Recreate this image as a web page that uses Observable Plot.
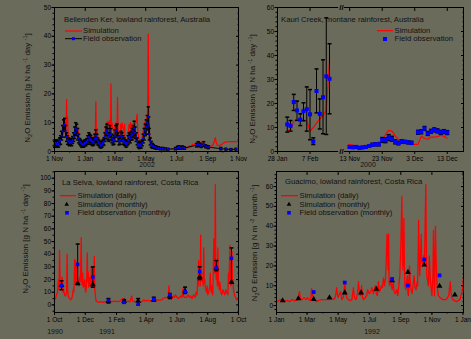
<!DOCTYPE html>
<html><head><meta charset="utf-8">
<script src="https://cdn.jsdelivr.net/npm/d3@7"></script>
<script src="https://cdn.jsdelivr.net/npm/@observablehq/plot@0.6"></script>
<style>
html,body{margin:0;padding:0;background:#6b6b5c;}
#wrap{position:relative;width:471px;height:339px;overflow:hidden;background:#6b6b5c;font-family:"Liberation Sans",Arial,sans-serif;}
</style></head><body><div id="wrap"></div>
<script>
// ---------- Panel 1: Bellenden Ker (day offset from 1 Nov 2001) ----------
const bkStart = "2001-11-01", bkEnd = "2002-11-01";
const bkSim = [[0,2.2],[2,2.8],[4,2.5],[6,3.2],[8,2.6],[10,3.5],[12,4.5],[14,5.5],[16,7],[17,9.5],[18,6],[19,11],[20,8],[21,10],[22,6],[23,8],[24,18],[25,9],[26,12],[27,6],[28,5],[30,4],[32,3.5],[34,5],[36,3.2],[38,4],[40,5.5],[42,7],[44,8.5],[45,6.5],[46,8],[48,5.5],[50,4],[52,3.5],[54,3],[56,2.6],[58,3],[60,2.5],[62,3],[64,3.5],[66,4],[68,5.5],[70,4.5],[72,6],[74,5],[76,4],[78,5.5],[80,4],[81,7],[82,17.3],[83,6],[84,8],[86,5],[88,4],[90,3],[92,2.5],[94,3],[96,3.5],[98,5],[100,6.5],[102,9.5],[103,7],[104,10],[105,8],[106,10.5],[108,9.5],[110,11],[111,7],[112,23.5],[113,9],[114,10],[116,8],[118,6],[120,9],[122,10],[124,7],[125,18.8],[126,8],[128,5],[130,4],[131,9.5],[132,6],[134,10],[136,8],[138,7],[139,9.5],[140,5],[142,3.5],[144,4],[146,6],[148,9.5],[150,8],[151,10],[152,6],[154,9.5],[156,7],[158,5],[160,9],[162,10.5],[164,13],[165,8],[166,6],[168,4],[170,3],[172,3.5],[174,5],[176,7],[178,9],[180,10.5],[182,11],[184,12],[185,16],[186,40.8],[187,14],[188,8],[189,5],[190,4],[192,3],[195,2.5],[198,2.2],[202,2],[206,1.6],[212,1.3],[220,1.0],[230,0.8],[240,0.7],[250,0.8],[258,1.1],[264,1.4],[268,2.0],[270,1.6],[274,2.6],[276,2.0],[279,2.8],[282,2.2],[285,3.2],[287,2.3],[290,3.0],[292,3.4],[294,2.5],[297,2.8],[300,2.2],[303,2.0],[306,1.8],[309,2.0],[312,1.8],[315,2.5],[317,3.5],[319,4.8],[321,3.0],[323,2.2],[326,2.0],[330,2.3],[333,2.6],[336,3.1],[340,3.3],[350,3.4],[364,3.4]];
// [day, observed, error]
const bkObs = [[0,2.5,1],[2,3,1],[4,2.5,1],[6,3,1],[8,2.5,1],[10,3.5,1.2],[12,4,1.5],[14,5.5,1.5],[16,7,2],[18,9,2],[20,9.5,2],[22,7,2],[24,5,1.5],[26,4,1.5],[28,3.5,1.2],[30,3,1],[32,3.5,1],[34,3,1],[36,4,1.2],[38,5,1.5],[40,6.5,2],[42,8,2],[44,7.5,2],[46,6,2],[48,4.5,1.5],[50,3.5,1],[52,3,1],[54,2.5,1],[56,2.5,1],[58,2.5,1],[60,3,1],[62,3,1],[64,3.5,1],[66,4,1.5],[68,5,1.5],[70,4.5,1.5],[72,4,1.5],[74,3.5,1.2],[76,3,1],[78,3.5,1.2],[80,4.5,1.5],[82,5.5,2],[84,4.5,1.5],[86,3.5,1.2],[88,3,1],[90,2.5,1],[92,2,0.8],[94,2.5,1],[96,3,1],[98,3.5,1.2],[100,5,1.5],[102,6.5,2],[104,7.5,2],[106,6,2],[108,5,1.5],[110,7,2],[112,6,2],[114,4.5,1.5],[116,3.5,1.2],[118,4,1.5],[120,5.5,2],[122,7,2],[124,7.5,2],[126,5,1.5],[128,3.5,1.2],[130,4,1.5],[132,5.5,1.5],[134,5,1.5],[136,4,1.5],[138,3.5,1.2],[140,3,1],[142,2.5,1],[144,3,1],[146,4,1.5],[148,5,1.5],[150,4.5,1.5],[152,5.5,1.5],[154,6,2],[156,7,2],[158,8,2.5],[160,6.5,2],[162,5,1.5],[164,3.5,1.2],[166,2.5,1],[168,2,1],[170,2.5,1],[172,2,0.8],[174,3,1],[176,4.5,1.5],[178,6,2],[180,7.5,2],[182,8.5,2.5],[184,10,2.5],[186,12,3.5],[187,9,3],[188,6,2],[190,3.5,1.2],[192,2.5,1],[194,2,0.8],[196,1.8,0.6],[199,1.5,0.5],[202,1.3,0.5],[206,1.2,0.4],[210,1,0.4],[215,1,0.4],[220,0.9,0.3],[225,0.8,0.3],[240,1.0,0.4],[244,1.3,0.5],[247,1.5,0.5],[250,1.2,0.4],[254,1.4,0.5],[258,1.2,0.4],[282,2.2,0.6],[285,2.6,0.8],[288,2.3,0.6],[291,2.0,0.6],[296,2.6,0.8],[300,1.8,0.5],[305,1.5,0.5],[330,1.0,0.4],[340,0.8,0.3],[350,0.7,0.3],[360,0.8,0.3]];
const bkXTicks = ["2001-11-01","2002-01-01","2002-03-01","2002-05-01","2002-07-01","2002-09-01","2002-11-01"];

// ---------- Panel 2: Kauri Creek (broken axis) ----------
const kcRightOffset = 22.2;   // axis position of 13 Nov
const kcBreak = 19.7;
const kcLeftTickDays = [0, 10], kcLeftTickLabels = ["28 Jan", "7 Feb"];
const kcRightTickDays = [0, 10, 20, 30], kcRightTickLabels = ["13 Nov", "23 Nov", "3 Dec", "13 Dec"];
// [day from 28 Jan, obs, low, high]
const kcLeftObs = [[3,11.3,8.1,14.3],[4,10.7,8.5,12.9],[5,20.6,17.1,23.8],[6,17.1,13,21],[7,13.3,10.8,15.7],[8,16.8,12.8,20.3],[9,17.6,8.5,26.9],[10,15.5,4.9,25.8],[11,4.2,2.9,5.7],[12,25.2,16.1,34.4],[13,15.7,9.4,21.9],[14,22.6,7.4,38.2],[15,31.3,7.1,55.7],[16,30.3,15.7,44.9]];
const kcLeftSim = [[3,8.5],[4,9],[5,12.5],[6,13],[7,13],[8,13.2],[9,12.8],[10,8.5],[11,10],[12,11.8],[13,13.5],[14,15],[15,17],[16,38]];
// [day from 13 Nov, obs, error]
const kcRightObs = [[0,1.9,0.5],[1,1.8,0.5],[2,1.9,0.5],[3,1.5,0.4],[4,1.7,0.4],[5,1.9,0.5],[6,2.3,0.5],[7,2.8,0.6],[8,3.0,0.6],[9,3.0,0.6],[10,4.8,1],[11,4.7,1],[12,5.8,1.2],[13,5.3,1],[14,4.0,0.8],[15,3.5,0.7],[16,4.2,0.7],[17,4.0,0.6],[18,3.8,0.6],[19,3.6,0.6],[21,8.0,0.8],[22,8.2,0.8],[23,9.6,0.8],[24,7.5,0.8],[25,8.4,0.8],[26,9.0,0.8],[27,8.6,0.8],[28,8.0,0.8],[29,8.3,0.8],[30,7.9,0.8]];
const kcRightSim = [[-0.3,3.0],[1.8,2.5],[3.9,2.0],[5.9,2.5],[8,3.5],[10,4.5],[11,7],[12,8.8],[13,8.5],[14,6.5],[15,5],[16,4],[17,3.5],[18,3.3],[20,3],[21,3],[22,6.3],[23,5.5],[24,5.0],[25,6],[26,6],[27,6.2],[28,6.8],[29,6.3],[30,5.5]];

// ---------- Panel 3: La Selva (day offset from 1 Oct 1990) ----------
const lsStart = "1990-10-01", lsEnd = "1991-10-01";
const lsSim = [[0,4],[2,5],[4,8],[6,10],[7,16],[8,20],[9,12],[10,43],[11,20],[12,14],[13,18],[14,12],[15,22],[16,18],[17,10],[18,12],[20,8],[22,7],[24,10],[25,40],[26,12],[27,8],[28,6],[30,5],[32,4],[34,5],[36,8],[37,12],[38,10],[39,15],[40,36],[41,18],[42,35],[43,16],[44,18],[45,30],[46,17],[47,18],[48,20],[49,15],[50,22],[51,18],[52,30],[53,53],[54,20],[55,16],[56,25],[57,14],[58,15],[59,18],[60,20],[61,12],[62,10],[63,14],[64,22],[65,41],[66,18],[67,26],[68,14],[69,15],[70,22],[71,16],[72,15],[73,30],[74,18],[75,17],[76,22],[77,20],[78,15],[79,38],[80,12],[81,8],[82,4],[83,3],[85,2.5],[88,2],[92,2.5],[96,2],[100,2.5],[105,2],[110,3],[115,2.5],[120,3],[125,2.5],[130,3],[135,5],[137,3],[140,2.5],[145,3],[150,2.5],[153,7],[155,3],[160,2.5],[165,3],[170,2],[175,3],[178,4],[180,3],[185,3.5],[190,3],[195,4],[200,4.5],[204,4],[208,3.5],[212,4],[216,5],[220,6],[224,5],[226,8],[227,15],[228,9],[230,6],[233,5],[236,7],[238,6],[240,8],[243,6],[246,5],[250,7],[253,6],[255,13],[256,7],[258,6],[262,6],[265,8],[268,6],[270,7],[273,5],[276,8],[279,6],[281,10],[283,8],[284,20],[285,15],[286,35],[287,22],[288,30],[289,15],[290,55],[291,20],[292,25],[293,18],[294,20],[295,15],[296,45],[297,18],[298,20],[299,15],[300,12],[302,10],[303,15],[304,8],[306,10],[308,15],[309,25],[310,12],[311,10],[312,15],[313,10],[314,8],[315,30],[316,52],[317,40],[318,25],[319,95],[320,30],[321,20],[322,25],[323,15],[324,45],[325,20],[326,15],[327,12],[328,18],[329,15],[330,10],[332,8],[334,12],[336,10],[338,8],[340,12],[342,10],[344,8],[345,25],[346,18],[347,30],[348,47],[349,20],[350,15],[351,25],[352,42],[353,18],[354,20],[355,12],[356,10],[358,7],[360,5],[362,4],[364,5]];
const lsMonthDay = [14,46,76,107,138,166,197,229,259,288,321,351];
const lsObs  = [15,32,22,3.5,2,0.5,4.5,8,10.5,26.3,29.2,36.8];
const lsSimM = [15.5,17,16,3,3,3,4,7,11,22,29,18];
const lsLo   = [12,16,14,1.5,1.5,0,3,5,9,20,27,17];
const lsHi   = [19,48,30,5,4,5,6,9,14,30,35,45];
const lsXTicks = ["1990-10-01","1990-12-01","1991-02-01","1991-04-01","1991-06-01","1991-08-01","1991-10-01"];

// ---------- Panel 4: Guacimo (day offset from 1 Jan 1992) ----------
const gmStart = "1992-01-01", gmEnd = "1993-01-02";
const gmSim = [[0,1.5],[4,2.5],[8,3],[12,2],[15,2],[18,2.5],[21,2.5],[26,2],[31,3],[35,2.5],[38,2.5],[42,3],[45,7],[47,3.5],[50,3],[54,4],[58,3],[61,4],[64,3],[67,2.5],[69,8.5],[71,5],[73,4],[76,2.5],[78,2],[82,2.5],[88,3],[95,3],[101,3],[108,3.2],[114,3.2],[116,5],[118,9],[120,5],[121,4],[124,6],[126,7],[128,3],[131,4],[134,11],[136,6],[138,4],[141,3],[145,2.5],[148,3],[151,9],[153,4],[156,3],[159,6],[161,12],[163,6],[165,5],[167,10],[169,4],[171,3],[174,4],[177,5],[179,8],[182,6],[185,7],[187,9],[190,6],[192,8],[194,10],[196,6],[198,5],[200,12],[202,7],[204,8],[206,10],[208,9],[210,14],[212,10],[214,14],[215,20],[217,36],[218,28],[219,18],[220,36],[221,12],[222,10],[224,14],[226,9],[227,8],[229,12],[231,7],[233,6],[236,8],[238,5],[240,10],[242,15],[243,22],[244,30],[246,55],[247,35],[248,18],[249,25],[250,44],[251,20],[252,10],[254,8],[255,12],[257,15],[258,6],[259,5],[261,20],[262,14],[264,8],[266,6],[268,10],[270,15],[272,9],[274,8],[276,12],[277,10],[279,43],[280,25],[281,15],[282,20],[284,36],[285,22],[287,20],[289,25],[290,22],[291,30],[293,61],[294,30],[295,15],[297,12],[298,10],[300,25],[302,12],[303,10],[305,5],[307,15],[308,38],[309,20],[310,5],[312,40],[313,25],[315,10],[318,5],[321,4],[326,3],[333,3],[338,5],[341,12],[343,5],[346,3],[353,2],[360,3],[365,8],[367,14]];
const gmMonthDay = [12,43,73,104,134,166,196,227,258,290,320,350];
const gmSimM = [2.5,3.5,3.2,4.0,6.5,6.5,8.3,12.6,16.8,20.5,9.8,5.4];
const gmObsDay = [73,134,227,258,290,320];
const gmObsVal = [6.8,11.6,13.4,10.1,23.2,15.2];
const gmXTicks = ["1992-01-01","1992-03-01","1992-05-01","1992-07-01","1992-09-01","1992-11-01","1993-01-01"];

// ---------- helpers ----------
const BG = "#6b6b5c";
const utc = s => new Date(s + "T00:00:00Z");
const dayTo = (start, d) => new Date(utc(start).getTime() + d * 864e5);
const fmt = d3.utcFormat("%-d %b");
const blank = () => "";
const cap = {draw(ctx, size) { const r = Math.sqrt(size / Math.PI); ctx.moveTo(-r, 0); ctx.lineTo(r, 0); }};
const range = (a, b, s) => d3.range(a, b + 1e-9, s);
const baseStyle = {fontFamily: "'Liberation Sans', Arial, sans-serif", fontSize: "6.5px", color: "black", background: "transparent", overflow: "visible"};

function axes({xMajor, xMinor, xFormat, yMajor, yMinor}) {
  const m = [
    Plot.frame({stroke: "black", strokeWidth: 1}),
    Plot.axisX(xMajor, {tickFormat: xFormat, tickSize: 3, tickPadding: 1.5, label: null}),
    Plot.axisX(xMajor, {anchor: "top", tickFormat: blank, tickSize: 3, insetTop: 3, label: null}),
    Plot.axisY(yMajor, {tickSize: 2.5, tickPadding: 1, label: null}),
    Plot.axisY(yMinor, {tickSize: 1.5, tickFormat: blank, label: null}),
    Plot.axisY(yMajor, {anchor: "right", tickSize: 3, insetRight: 3, tickFormat: blank, label: null}),
    Plot.axisY(yMinor, {anchor: "right", tickSize: 1.5, insetRight: 1.5, tickFormat: blank, label: null})
  ];
  if (xMinor) m.push(Plot.axisX(xMinor, {tickSize: 1.5, tickFormat: blank, label: null}));
  return m;
}
const wrap = document.getElementById("wrap");
function place(svg, left, top) {
  svg.style.position = "absolute"; svg.style.left = left + "px"; svg.style.top = top + "px";
  wrap.appendChild(svg);
}

// ---------- Panel 1 ----------
{
  const sim = bkSim.map(([d, v]) => ({x: dayTo(bkStart, d), y: v}));
  const obs = bkObs.map(([d, v, e]) => ({x: dayTo(bkStart, d), y: v, lo: Math.max(0, v - e), hi: v + e}));
  const svg = Plot.plot({
    width: 240, height: 170, marginLeft: 54, marginRight: 2, marginTop: 7, marginBottom: 19,
    style: baseStyle,
    x: {type: "utc", domain: [utc(bkStart), utc(bkEnd)]},
    y: {domain: [0, 50]},
    marks: [
      Plot.line(sim, {x: "x", y: "y", stroke: "#ff0000", strokeWidth: 1.2}),
      Plot.ruleX(obs, {x: "x", y1: "lo", y2: "hi", stroke: "black", strokeWidth: 1}),
      Plot.dot(obs, {x: "x", y: "hi", symbol: cap, r: 1.6, stroke: "black", fill: "none"}),
      Plot.dot(obs, {x: "x", y: "lo", symbol: cap, r: 1.6, stroke: "black", fill: "none"}),
      Plot.line(obs, {x: "x", y: "y", stroke: "black", strokeWidth: 1}),
      Plot.dot(obs, {x: "x", y: "y", symbol: "square", r: 1.1, fill: "#0000ff", stroke: "none"}),
      ...axes({xMajor: bkXTicks.map(utc), xMinor: d3.utcMonths(utc(bkStart), utc(bkEnd)), xFormat: fmt,
               yMajor: range(0, 50, 10), yMinor: range(0, 50, 2)})
    ]
  });
  place(svg, 0, 0);
}

// ---------- Panel 2 ----------
{
  const simL = kcLeftSim.map(([d, v]) => ({x: d, y: v}));
  const simR = kcRightSim.map(([d, v]) => ({x: kcRightOffset + d, y: v}));
  const obs = kcLeftObs.map(([d, v, lo, hi]) => ({x: d, y: v, lo, hi}))
    .concat(kcRightObs.map(([d, v, e]) => ({x: kcRightOffset + d, y: v, lo: v - e, hi: v + e})));
  const tickPos = kcLeftTickDays.concat(kcRightTickDays.map(d => kcRightOffset + d));
  const tickLab = new Map(tickPos.map((p, i) => [p, kcLeftTickLabels.concat(kcRightTickLabels)[i]]));
  const svg = Plot.plot({
    width: 236, height: 170, marginLeft: 42, marginRight: 8, marginTop: 7, marginBottom: 19,
    style: baseStyle,
    x: {type: "linear", domain: [0, 57.2]},
    y: {domain: [0, 60]},
    marks: [
      Plot.line(simL, {x: "x", y: "y", stroke: "#ff0000", strokeWidth: 1.2}),
      Plot.line(simR, {x: "x", y: "y", stroke: "#ff0000", strokeWidth: 1.2}),
      Plot.ruleX(obs, {x: "x", y1: "lo", y2: "hi", stroke: "black", strokeWidth: 1}),
      Plot.dot(obs, {x: "x", y: "hi", symbol: cap, r: 2, stroke: "black", fill: "none"}),
      Plot.dot(obs, {x: "x", y: "lo", symbol: cap, r: 2, stroke: "black", fill: "none"}),
      Plot.dot(obs, {x: "x", y: "y", symbol: "square", r: 2.3, fill: "#0000ff", stroke: "none"}),
      ...axes({xMajor: tickPos, xFormat: p => tickLab.get(p), yMajor: range(0, 60, 10), yMinor: range(0, 60, 2)}),
      Plot.rect([{x1: kcBreak - 0.9, x2: kcBreak + 0.9, y1: -1.3, y2: 1.3}, {x1: kcBreak - 0.9, x2: kcBreak + 0.9, y1: 58.7, y2: 61.3}],
        {x1: "x1", x2: "x2", y1: "y1", y2: "y2", fill: BG}),
      Plot.text([{x: kcBreak, y: 0}, {x: kcBreak, y: 60}], {x: "x", y: "y", text: () => "//", fontSize: 8, fontWeight: "bold", fill: "black"})
    ]
  });
  place(svg, 235, 0);
}

// ---------- Panel 3 ----------
{
  const sim = lsSim.map(([d, v]) => ({x: dayTo(lsStart, d), y: v}));
  const mon = lsMonthDay.map((d, i) => ({x: dayTo(lsStart, d), obs: lsObs[i], sim: lsSimM[i], lo: lsLo[i], hi: lsHi[i]}));
  const svg = Plot.plot({
    width: 240, height: 174, marginLeft: 54, marginRight: 2, marginTop: 6, marginBottom: 27,
    style: baseStyle,
    x: {type: "utc", domain: [utc(lsStart), utc(lsEnd)]},
    y: {domain: [-6, 105.3]},
    marks: [
      Plot.line(sim, {x: "x", y: "y", stroke: "#ff0000", strokeWidth: 1.3}),
      Plot.ruleX(mon, {x: "x", y1: "lo", y2: "hi", stroke: "black", strokeWidth: 1}),
      Plot.dot(mon, {x: "x", y: "hi", symbol: cap, r: 2, stroke: "black", fill: "none"}),
      Plot.dot(mon, {x: "x", y: "lo", symbol: cap, r: 2, stroke: "black", fill: "none"}),
      Plot.dot(mon, {x: "x", y: "sim", symbol: "triangle", r: 2.2, fill: "black", stroke: "none"}),
      Plot.dot(mon, {x: "x", y: "obs", symbol: "square", r: 2, fill: "#0000ff", stroke: "none"}),
      ...axes({xMajor: lsXTicks.map(utc), xMinor: d3.utcMonths(utc(lsStart), utc(lsEnd)), xFormat: fmt,
               yMajor: range(0, 100, 10), yMinor: range(-5, 105, 5)})
    ]
  });
  place(svg, 0, 165);
}

// ---------- Panel 4 ----------
{
  const sim = gmSim.map(([d, v]) => ({x: dayTo(gmStart, d), y: v}));
  const mon = gmMonthDay.map((d, i) => ({x: dayTo(gmStart, d), sim: gmSimM[i]}));
  const obs = gmObsDay.map((d, i) => ({x: dayTo(gmStart, d), y: gmObsVal[i]}));
  const svg = Plot.plot({
    width: 236, height: 174, marginLeft: 41, marginRight: 8, marginTop: 6, marginBottom: 27,
    style: baseStyle,
    x: {type: "utc", domain: [utc(gmStart), utc(gmEnd)]},
    y: {domain: [-3.5, 67.6]},
    marks: [
      Plot.line(sim, {x: "x", y: "y", stroke: "#ff0000", strokeWidth: 1.3}),
      Plot.dot(mon, {x: "x", y: "sim", symbol: "triangle", r: 2.2, fill: "black", stroke: "none"}),
      Plot.dot(obs, {x: "x", y: "y", symbol: "square", r: 2.1, fill: "#0000ff", stroke: "none"}),
      ...axes({xMajor: gmXTicks.map(utc), xMinor: d3.utcMonths(utc(gmStart), utc(gmEnd)), xFormat: fmt,
               yMajor: range(0, 60, 10), yMinor: range(-2, 66, 2)})
    ]
  });
  place(svg, 235, 165);
}

// ---------- In-panel titles, legends, axis titles and year labels ----------
const panelTitles = [
  ["Bellenden Ker, lowland rainforest, Australia", 64, 21.5],
  ["Kauri Creek, montane rainforest, Australia", 281, 21.5],
  ["La Selva, lowland rainforest, Costa Rica", 62, 185],
  ["Guacimo, lowland rainforest, Costa Rica", 285, 184]
];
const yearLabels = [["2002", 147, 167], ["2000", 368, 167], ["1990", 55, 334], ["1991", 107, 334], ["1992", 372, 334]];
const legendText = [
  ["Simulation", 83, 33.3], ["Field observation", 83, 41],
  ["Simulation", 394.5, 33.3], ["Field observation", 394.5, 41],
  ["Simulation (daily)", 77.5, 198], ["Simulation (monthly)", 77.5, 206.5], ["Field observation (monthly)", 77.5, 215],
  ["Simulation (daily)", 299.5, 198], ["Simulation (monthly)", 299.5, 206.5], ["Field observation (monthly)", 299.5, 215]
];
// y-axis titles: [unit area part, unit time part, x, y]
const yTitles = [["ha", "day", 30, 88], ["ha", "day", 255, 89], ["ha", "day", 28, 239], ["m", "month", 257, 243]];
const yTitleExp = [["-1", "-1"], ["-1", "-1"], ["-1", "-1"], ["-2", "-1"]];

const ns = "http://www.w3.org/2000/svg";
const ov = document.createElementNS(ns, "svg");
ov.setAttribute("width", 471); ov.setAttribute("height", 339);
ov.style.position = "absolute"; ov.style.left = "0px"; ov.style.top = "0px";
ov.style.fontFamily = "'Liberation Sans', Arial, sans-serif";
function add(tag, attrs, txt, parent = ov) {
  const e = document.createElementNS(ns, tag);
  for (const k in attrs) e.setAttribute(k, attrs[k]);
  if (txt) e.textContent = txt;
  parent.appendChild(e);
  return e;
}
panelTitles.forEach(([t, x, y]) => add("text", {x, y, "font-size": 7.7, fill: "#111"}, t));
legendText.forEach(([t, x, y]) => add("text", {x, y, "font-size": 7.7, fill: "#111"}, t));
yearLabels.forEach(([t, x, y]) => add("text", {x, y, "font-size": 7, fill: "#111", "text-anchor": "middle"}, t));
yTitles.forEach(([area, time, x, y], i) => {
  const t = add("text", {transform: `translate(${x},${y}) rotate(-90)`, "text-anchor": "middle", "font-size": 8, fill: "#111"});
  add("tspan", {}, "N", t);
  add("tspan", {dy: 1.6, "font-size": 5.5}, "2", t);
  add("tspan", {dy: -1.6}, "O Emission [g N " + area + " ", t);
  add("tspan", {dy: -3, "font-size": 5.5}, yTitleExp[i][0], t);
  add("tspan", {dy: 3}, " " + time + " ", t);
  add("tspan", {dy: -3, "font-size": 5.5}, yTitleExp[i][1], t);
  add("tspan", {dy: 3}, "]", t);
});
// legend swatches
add("line", {x1: 65, x2: 82, y1: 31, y2: 31, stroke: "#ff0000", "stroke-width": 1.2});
add("line", {x1: 65, x2: 82, y1: 38.7, y2: 38.7, stroke: "black", "stroke-width": 1});
add("rect", {x: 72, y: 37.2, width: 3, height: 3, fill: "#0000ff"});
add("line", {x1: 377, x2: 393, y1: 30.7, y2: 30.7, stroke: "#ff0000", "stroke-width": 1.2});
add("rect", {x: 383, y: 37, width: 4, height: 4, fill: "#0000ff"});
add("line", {x1: 60, x2: 76, y1: 195.7, y2: 195.7, stroke: "#ff0000", "stroke-width": 1.3});
add("path", {d: "M66.7,201.8L69,205.8L64.4,205.8Z", fill: "black"});
add("rect", {x: 65.2, y: 211, width: 3.6, height: 3.6, fill: "#0000ff"});
add("line", {x1: 281, x2: 298, y1: 195.7, y2: 195.7, stroke: "#ff0000", "stroke-width": 1.3});
add("path", {d: "M289,201.8L291.3,205.8L286.7,205.8Z", fill: "black"});
add("rect", {x: 287.2, y: 211, width: 3.6, height: 3.6, fill: "#0000ff"});
wrap.appendChild(ov);
</script></body></html>
